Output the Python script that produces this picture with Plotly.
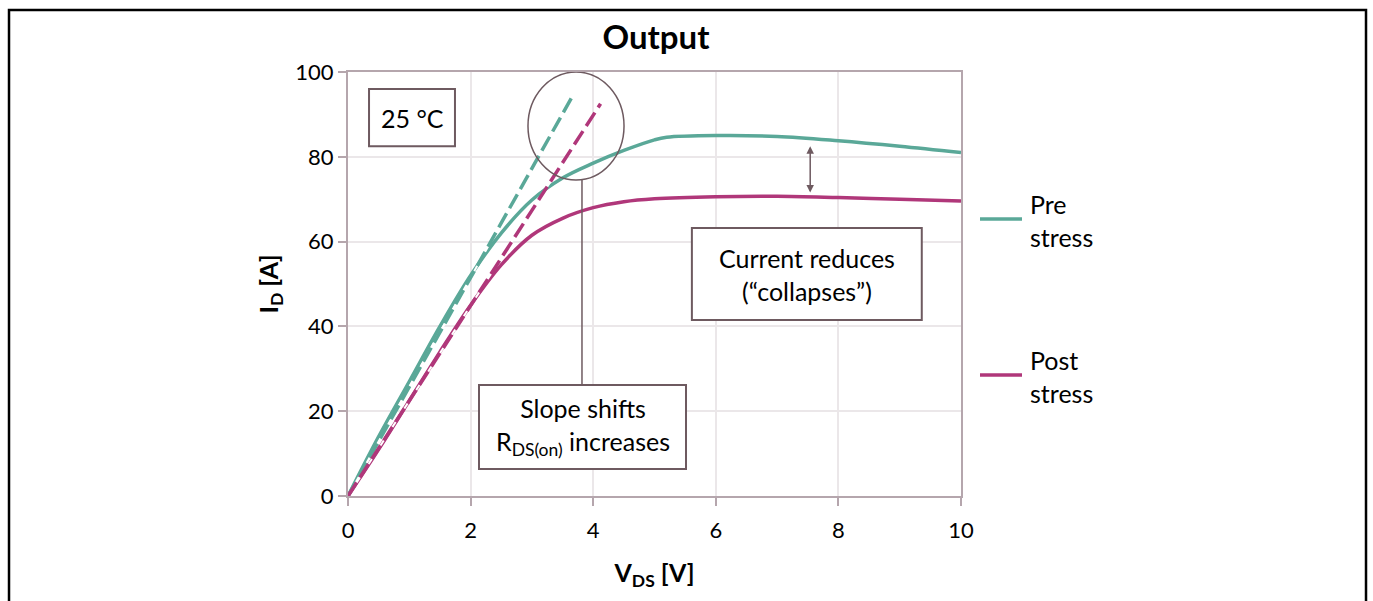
import plotly.graph_objects as go

# Output characteristic, I_D vs V_DS at 25 °C
v_pre = [0, 0.5, 1, 1.5, 2, 2.5, 3, 3.5, 4, 4.5, 5, 5.2, 6, 7, 8, 9, 10]
i_pre = [0, 14, 27, 40, 52, 62, 69.8, 75, 78.5, 81.5, 84, 84.6, 85, 84.8, 83.8, 82.5, 81]

v_post = [0, 0.5, 1, 1.5, 2, 2.5, 3, 3.5, 4, 4.5, 5, 6, 7, 8, 9, 10]
i_post = [0, 11, 22.5, 34, 45, 54.5, 61.5, 65.5, 68, 69.4, 70.1, 70.6, 70.7, 70.4, 70, 69.6]

# linear-region slope lines
v_slope_pre = [0, 3.65]
i_slope_pre = [0, 94]
v_slope_post = [0, 4.12]
i_slope_post = [0, 92.5]

series_names = ["Pre<br>stress", "Post<br>stress"]
x_ticks = [0, 2, 4, 6, 8, 10]
y_ticks = [0, 20, 40, 60, 80, 100]

TEAL = "#5aa898"
MAGENTA = "#b0377a"
BOX = "#6e5a60"
AXIS = "#b5a6ad"
GRID = "#ebe7e9"
FONT = "Lato"

fig = go.Figure()
fig.add_trace(go.Scatter(x=v_pre, y=i_pre, mode="lines", line=dict(color=TEAL, width=3.5, shape="spline"), name="Pre stress"))
fig.add_trace(go.Scatter(x=v_post, y=i_post, mode="lines", line=dict(color=MAGENTA, width=3.5, shape="spline"), name="Post stress"))
for vx, iy, col in [(v_slope_pre, i_slope_pre, TEAL), (v_slope_post, i_slope_post, MAGENTA)]:
    fig.add_trace(go.Scatter(x=vx, y=iy, mode="lines", line=dict(color="white", width=2), hoverinfo="skip"))
    fig.add_trace(go.Scatter(x=vx, y=iy, mode="lines", line=dict(color=col, width=3.5, dash="16px,6px"), hoverinfo="skip"))

shapes = [
    # outer frame
    dict(type="rect", xref="paper", yref="paper", x0=-0.553, x1=1.6607, y0=-0.4, y1=1.146,
         line=dict(color="black", width=2.5), layer="below"),
    # circle around slope region
    dict(type="circle", xref="x", yref="y", x0=2.936, x1=4.503, y0=74.5, y1=100,
         line=dict(color=BOX, width=1.5)),
    dict(type="line", xref="x", yref="y", x0=3.817, x1=3.817, y0=74.5, y1=26.2,
         line=dict(color=BOX, width=1.5)),
    # legend samples
    dict(type="line", xref="paper", yref="paper", x0=(980 - 348) / 613, x1=(1022 - 348) / 613,
         y0=(496 - 219) / 424, y1=(496 - 219) / 424, line=dict(color=TEAL, width=3.5)),
    dict(type="line", xref="paper", yref="paper", x0=(980 - 348) / 613, x1=(1022 - 348) / 613,
         y0=(496 - 375) / 424, y1=(496 - 375) / 424, line=dict(color=MAGENTA, width=3.5)),
]

boxes = [
    (0.343, 1.745, 82.5, 96.0, "25 °C"),
    (2.137, 5.514, 6.37, 26.2, "Slope shifts<br>R<sub>DS(on)</sub> increases"),
    (5.61, 9.36, 41.5, 63.2, "Current reduces<br>(“collapses”)"),
]
annotations = []
for x0, x1, y0, y1, txt in boxes:
    shapes.append(dict(type="rect", xref="x", yref="y", x0=x0, x1=x1, y0=y0, y1=y1,
                       line=dict(color=BOX, width=2), fillcolor="white"))
    annotations.append(dict(x=(x0 + x1) / 2, y=(y0 + y1) / 2, xref="x", yref="y", text=txt,
                            showarrow=False, xanchor="center", yanchor="middle",
                            font=dict(family=FONT, size=25, color="black")))

# double-headed arrow between the curves
annotations.append(dict(x=7.54, y=82.5, ax=7.54, ay=71.2, xref="x", yref="y", axref="x", ayref="y",
                        text="", showarrow=True, arrowhead=2, arrowside="end+start",
                        arrowsize=1, arrowwidth=1.5, arrowcolor=BOX, startarrowhead=2, startarrowsize=1))

for name, ypx in zip(series_names, [220, 376]):
    annotations.append(dict(x=(1028 - 348) / 613, y=(496 - ypx) / 424, xref="paper", yref="paper",
                            text=name, showarrow=False, xanchor="left", yanchor="middle", align="left",
                            font=dict(family=FONT, size=25, color="black")))

fig.update_layout(
    width=1373, height=601,
    margin=dict(l=348, r=412, t=72, b=105),
    paper_bgcolor="white", plot_bgcolor="white",
    showlegend=False,
    title=dict(text="<b>Output</b>", x=656 / 1373, xanchor="center", y=1 - 37 / 601, yanchor="middle",
               font=dict(family=FONT, size=33, color="black")),
    shapes=shapes, annotations=annotations,
    font=dict(family=FONT, color="black"),
)
fig.update_xaxes(range=[0, 10], tickvals=x_ticks, showgrid=True, gridcolor=GRID, gridwidth=2,
                 showline=True, linecolor=AXIS, linewidth=2, mirror=True,
                 ticks="outside", ticklen=8, tickcolor=AXIS, tickwidth=2, ticklabelstandoff=6,
                 tickfont=dict(family=FONT, size=22), zeroline=False,
                 title=dict(text="<b>V<sub>DS</sub> [V]</b>", font=dict(family=FONT, size=25), standoff=22))
fig.update_yaxes(range=[0, 100], tickvals=y_ticks, showgrid=True, gridcolor=GRID, gridwidth=2,
                 showline=True, linecolor=AXIS, linewidth=2, mirror=True,
                 ticks="outside", ticklen=8, tickcolor=AXIS, tickwidth=2,
                 tickfont=dict(family=FONT, size=22), zeroline=False,
                 title=dict(text="<b>I<sub>D</sub> [A]</b>", font=dict(family=FONT, size=25), standoff=10))

fig.write_html("out.html")
